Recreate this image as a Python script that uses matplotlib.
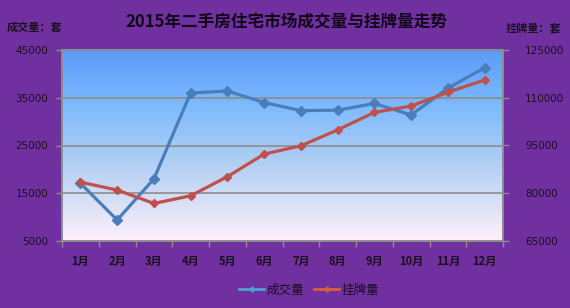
import numpy as np
import matplotlib
matplotlib.use("Agg")
import matplotlib.pyplot as plt
from matplotlib.colors import LinearSegmentedColormap
from matplotlib.lines import Line2D

months = ["1月", "2月", "3月", "4月", "5月", "6月", "7月", "8月", "9月", "10月", "11月", "12月"]
deals = [17100, 9400, 18000, 36000, 36400, 34000, 32300, 32400, 33800, 31400, 37000, 41300]
listings = [83500, 81000, 76800, 79200, 85200, 92300, 94900, 99900, 105400, 107400, 111700, 115600]
left_ticks = [5000, 15000, 25000, 35000, 45000]
right_ticks = [65000, 80000, 95000, 110000, 125000]

CJK = ['Noto Sans CJK SC', 'DejaVu Sans']
NUM = ['DejaVu Sans', 'Noto Sans CJK SC']
plt.rcParams['font.family'] = CJK

bg = '#7030A0'
txt = '#1a1020'
blue = '#4A7EBB'
red = '#C0504D'
grid = '#8C8C8C'

fig = plt.figure(figsize=(5.7, 3.08), dpi=100, facecolor=bg)
ax = fig.add_axes([62/570, 1-241/308, (503-62)/570, (241-50)/308])
ax.set_facecolor('none')
ax2 = ax.twinx()

x = np.arange(len(months))
ax.set_xlim(-0.5, len(months) - 0.5)
ax.set_ylim(5000, 45000)
ax2.set_ylim(65000, 125000)

# gradient background
cmap = LinearSegmentedColormap.from_list('g', [(0, '#FFF0FA'), (0.45, '#A9CCF2'), (0.7, '#80BBFF'), (1, '#5A9BFA')])
grad = np.linspace(0, 1, 256).reshape(-1, 1)
ax.imshow(grad, cmap=cmap, origin='lower', aspect='auto',
          extent=[-0.5, len(months) - 0.5, 5000, 45000], zorder=0)

for t in left_ticks:
    ax.axhline(t, color=grid, lw=1.2, zorder=1)

ax.plot(x, deals, color=blue, lw=2.3, marker='D', ms=5, zorder=3)
ax2.plot(x, listings, color=red, lw=2.3, marker='D', ms=4.5, zorder=3)

ax.set_yticks(left_ticks)
ax2.set_yticks(right_ticks)
ax.set_xticks(x)
ax.set_xticklabels(months)
ax.set_xticks(np.arange(-0.5, len(months)), minor=True)
ax.tick_params(axis='x', which='major', length=0, pad=10, labelsize=8, labelcolor=txt)
ax.tick_params(axis='x', which='minor', length=4, color=grid, width=1)
ax.tick_params(axis='y', length=4, color=grid, width=1, labelsize=7.5, labelcolor=txt, pad=6)
ax2.tick_params(axis='y', length=4, color=grid, width=1, labelsize=7.5, labelcolor=txt, pad=12)
for a in (ax, ax2):
    for lab in a.get_yticklabels():
        lab.set_family(NUM)
for lab in ax.get_xticklabels():
    lab.set_family(CJK)
    lab.set_fontweight('bold')

for a in (ax, ax2):
    for s in a.spines.values():
        s.set_color(grid)
        s.set_linewidth(1.2)
ax.spines['bottom'].set_color('#B0B0B0')

fig.text(286/570, 1-22/308, "2015年二手房住宅市场成交量与挂牌量走势", ha='center', va='center',
         fontsize=12, fontweight='bold', color='#100818')
fig.text(7/570, 1-28/308, "成交量：套", ha='left', va='center', fontsize=8, fontweight='bold', color=txt)
fig.text(561/570, 1-28/308, "挂牌量：套", ha='right', va='center', fontsize=8, fontweight='bold', color=txt)

handles = [Line2D([], [], color='#4BA3D3', lw=2, marker='D', ms=2.5),
           Line2D([], [], color='#D9603B', lw=2, marker='D', ms=2.5)]
fig.legend(handles, ["成交量", "挂牌量"], loc='center', bbox_to_anchor=(309/570, 1-290/308),
           ncol=2, frameon=False, fontsize=9, handlelength=2.0, handletextpad=0.2,
           columnspacing=0.8, labelcolor=txt)

fig.savefig('out.png', dpi=100, facecolor=bg)
